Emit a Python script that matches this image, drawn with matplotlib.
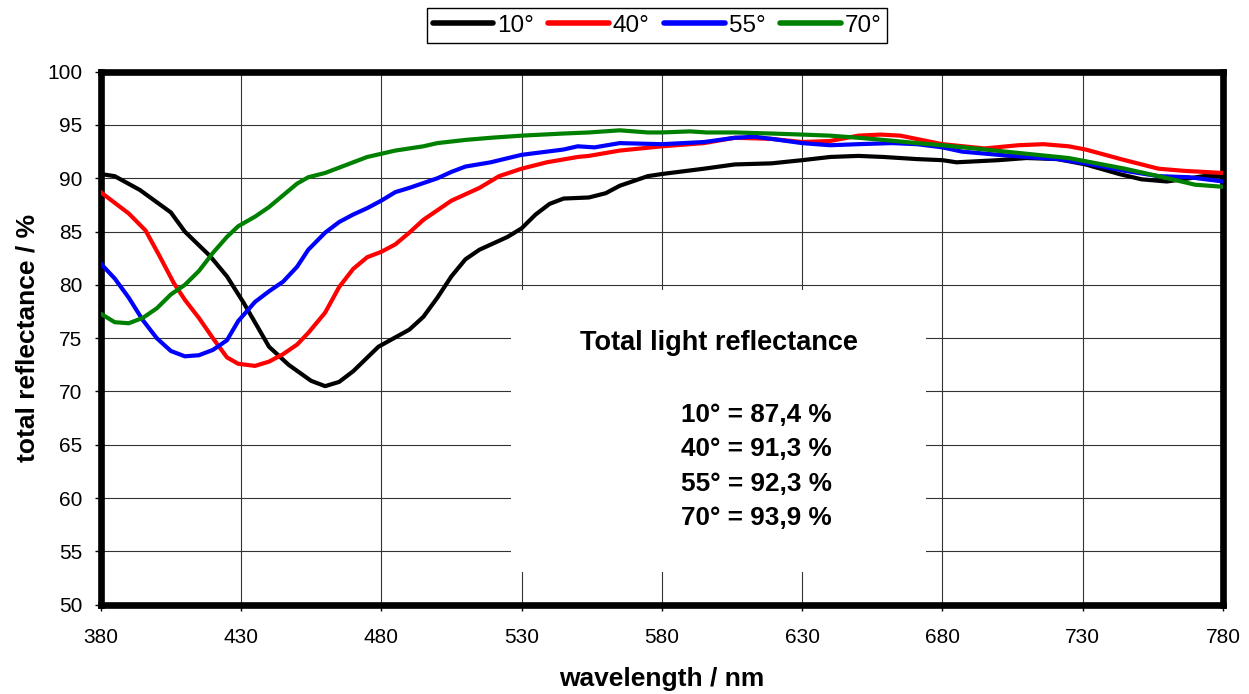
import matplotlib.pyplot as plt
from matplotlib.patches import Rectangle

plt.rcParams["font.family"] = ["Liberation Sans", "DejaVu Sans"]

# 10 deg
wl_10 = [380, 385, 394, 405, 410, 419, 425, 431, 440, 447, 455, 460, 465, 470, 479,
         490, 495, 500, 505, 510, 515, 525, 530, 535, 540, 545, 554, 560, 565, 575,
         580, 595, 606, 619, 630, 640, 650, 659, 671, 680, 685, 700, 710, 721, 731,
         743, 751, 760, 768, 773, 780]
r_10 = [90.4, 90.2, 88.9, 86.8, 85.0, 82.7, 80.8, 78.3, 74.2, 72.5, 71.0, 70.5, 70.9, 71.9, 74.2,
        75.8, 77.0, 78.8, 80.8, 82.4, 83.3, 84.5, 85.3, 86.6, 87.6, 88.1, 88.2, 88.6, 89.3, 90.2,
        90.4, 90.9, 91.3, 91.4, 91.7, 92.0, 92.1, 92.0, 91.8, 91.7, 91.5, 91.7, 91.9, 91.8, 91.3,
        90.4, 89.9, 89.7, 90.0, 90.2, 90.2]

# 40 deg
wl_40 = [380, 385, 390, 396, 401, 406, 410, 415, 420, 425, 429, 435, 440, 445, 450,
         454, 460, 465, 470, 475, 480, 485, 490, 495, 500, 505, 510, 515, 522, 530,
         539, 550, 554, 565, 580, 595, 606, 619, 630, 640, 650, 658, 665, 680, 695,
         707, 716, 725, 731, 745, 757, 766, 780]
r_40 = [88.7, 87.7, 86.7, 85.1, 82.7, 80.2, 78.6, 76.9, 75.0, 73.2, 72.6, 72.4, 72.8, 73.5, 74.4,
        75.5, 77.4, 79.8, 81.5, 82.6, 83.1, 83.8, 84.9, 86.1, 87.0, 87.9, 88.5, 89.1, 90.2, 90.9,
        91.5, 92.0, 92.1, 92.6, 93.0, 93.3, 93.8, 93.7, 93.4, 93.5, 94.0, 94.1, 94.0, 93.2, 92.8,
        93.1, 93.2, 93.0, 92.7, 91.7, 90.9, 90.7, 90.5]

# 55 deg
wl_55 = [380, 385, 390, 395, 400, 405, 410, 415, 420, 425, 429, 435, 440, 445, 450,
         454, 460, 465, 470, 475, 480, 485, 490, 500, 505, 510, 519, 530, 545, 550,
         556, 565, 580, 595, 606, 613, 619, 630, 640, 650, 662, 671, 680, 687, 700,
         710, 721, 731, 745, 757, 768, 780]
r_55 = [82.0, 80.6, 78.8, 76.7, 75.0, 73.8, 73.3, 73.4, 73.9, 74.8, 76.6, 78.4, 79.4, 80.3, 81.7,
        83.3, 84.9, 85.9, 86.6, 87.2, 87.9, 88.7, 89.1, 90.0, 90.6, 91.1, 91.5, 92.2, 92.7, 93.0,
        92.9, 93.3, 93.2, 93.4, 93.8, 93.9, 93.7, 93.3, 93.1, 93.2, 93.3, 93.2, 92.9, 92.5, 92.2,
        92.0, 91.8, 91.4, 90.7, 90.2, 90.1, 89.7]

# 70 deg
wl_70 = [380, 385, 390, 395, 400, 405, 410, 415, 420, 425, 429, 435, 440, 445, 450,
         454, 460, 465, 470, 475, 480, 485, 495, 500, 510, 519, 530, 545, 554, 565,
         575, 580, 590, 596, 606, 619, 630, 640, 650, 659, 671, 680, 695, 710, 725,
         731, 745, 757, 770, 780]
r_70 = [77.3, 76.5, 76.4, 76.9, 77.8, 79.1, 80.0, 81.3, 83.0, 84.5, 85.5, 86.4, 87.3, 88.4, 89.5,
        90.1, 90.5, 91.0, 91.5, 92.0, 92.3, 92.6, 93.0, 93.3, 93.6, 93.8, 94.0, 94.2, 94.3, 94.5,
        94.3, 94.3, 94.4, 94.3, 94.3, 94.2, 94.1, 94.0, 93.8, 93.6, 93.3, 93.1, 92.7, 92.3, 91.9,
        91.6, 90.9, 90.2, 89.4, 89.2]

labels = ["10°", "40°", "55°", "70°"]
colors = ["black", "#ff0000", "#0000ff", "#008000"]
totals = ["10° = 87,4 %", "40° = 91,3 %", "55° = 92,3 %", "70° = 93,9 %"]

fig = plt.figure(figsize=(12.49, 6.94), dpi=100)
ax = fig.add_axes([0.0806, 0.1287, 0.8986, 0.768])

series = [(wl_10, r_10), (wl_40, r_40), (wl_55, r_55), (wl_70, r_70)]
for (x, y), lab, c in zip(series, labels, colors):
    ax.plot(x, y, color=c, lw=3.0, label=lab, zorder=3, solid_joinstyle="round")

ax.set_xlim(380, 780)
ax.set_ylim(50, 100)
ax.set_xticks(range(380, 781, 50))
ax.set_yticks(range(50, 101, 5))
ax.set_axisbelow(True)
ax.grid(True, color="#333333", lw=0.8)

for sp in ax.spines.values():
    sp.set_linewidth(4.8)
    sp.set_color("black")

ax.tick_params(axis="both", direction="out", length=4, width=1, labelsize=15)
ax.tick_params(axis="x", pad=13)
ax.tick_params(axis="y", pad=9)

ax.set_xlabel("wavelength / nm", fontsize=19, fontweight="bold", labelpad=14)
ax.set_ylabel("total reflectance / %", fontsize=19, fontweight="bold", labelpad=6)

# white box with the summary
ax.add_patch(Rectangle((0.366, 0.062), 0.369, 0.529, transform=ax.transAxes,
                       facecolor="white", edgecolor="none", zorder=1))
ax.text(0.5509, 0.4907, "Total light reflectance", transform=ax.transAxes,
        ha="center", va="center", fontsize=19.5, fontweight="bold", zorder=4)
ys = [0.3563, 0.2925, 0.2263, 0.1625]
for t, yy in zip(totals, ys):
    ax.text(0.5845, yy, t, transform=ax.transAxes, ha="center", va="center",
            fontsize=18.8, fontweight="bold", zorder=4)

leg = ax.legend(loc="center", bbox_to_anchor=(657 / 1249, 1 - 25.5 / 694),
                bbox_transform=fig.transFigure, ncol=4, fontsize=17.5,
                frameon=True, fancybox=False, edgecolor="black", framealpha=1,
                handlelength=2.5, handletextpad=0.15, columnspacing=0.6,
                borderpad=0.25, borderaxespad=0)
leg.get_frame().set_linewidth(1.0)
for h in leg.get_lines():
    h.set_linewidth(4)
    h.set_solid_capstyle("round")

fig.savefig("out.png", dpi=100)
